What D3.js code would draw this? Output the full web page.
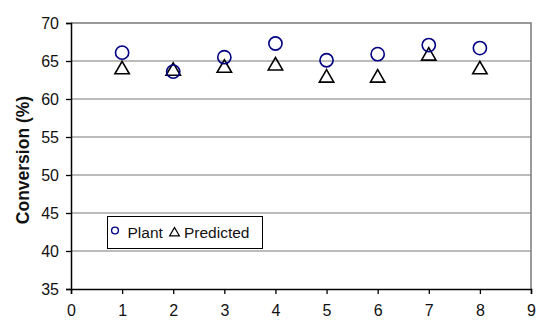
<!DOCTYPE html>
<html><head><meta charset="utf-8">
<script src="https://cdn.jsdelivr.net/npm/d3@7"></script>
<style>body{margin:0;background:#fff}svg{display:block;font-family:Arial,"Liberation Sans",sans-serif}</style>
</head><body><svg id="c" width="536" height="320"></svg>
<script>
const xValues = [1,2,3,4,5,6,7,8];
const plant = [66.1, 63.6, 65.5, 67.3, 65.1, 65.9, 67.1, 66.7];
const predicted = [64.0, 63.8, 64.2, 64.5, 62.9, 62.9, 65.8, 64.0];
const xTicks = [0,1,2,3,4,5,6,7,8,9];
const yTicks = [35,40,45,50,55,60,65,70];
const seriesNames = ["Plant","Predicted"];

const svg = d3.select("#c");
const L=71, R=531, T=23, B=289;
const x = d3.scaleLinear().domain([0,9]).range([L,R]);
const y = d3.scaleLinear().domain([35,70]).range([B,T]);

// gridlines
svg.append("g").selectAll("line").data(yTicks.filter(d=>d>35&&d<70)).join("line")
  .attr("x1",L).attr("x2",R).attr("y1",d=>y(d)).attr("y2",d=>y(d))
  .attr("stroke","#a6a6a6").attr("stroke-width",1.3);
// top/right border
svg.append("path").attr("d",`M${L},${T}H${R}V${B}`).attr("fill","none").attr("stroke","#7a7a7a").attr("stroke-width",1.5);

// axes
const ax = svg.append("g").attr("transform",`translate(0,${B})`)
  .call(d3.axisBottom(x).tickValues(xTicks).tickSize(5).tickPadding(11).tickFormat(d3.format("d")));
const ay = svg.append("g").attr("transform",`translate(${L},0)`)
  .call(d3.axisLeft(y).tickValues(yTicks).tickSize(5).tickPadding(7).tickFormat(d3.format("d")));
[ax,ay].forEach(g=>{
  g.select(".domain").attr("stroke","#000").attr("stroke-width",1.5);
  g.selectAll(".tick line").attr("stroke","#000").attr("stroke-width",1.3);
  g.selectAll("text").attr("font-size",16).attr("fill","#111").attr("font-family","Arial, 'Liberation Sans', sans-serif");
});

svg.append("text").attr("transform","translate(29,160) rotate(-90)")
  .attr("text-anchor","middle").attr("font-size",17.5).attr("font-weight","bold").attr("fill","#111")
  .text("Conversion (%)");

const tri = d3.symbol().type(d3.symbolTriangle).size(90);
// predicted triangles
svg.append("g").selectAll("path").data(xValues).join("path")
  .attr("d",tri).attr("transform",(d,i)=>`translate(${x(d)},${y(predicted[i])+1})`)
  .attr("fill","none").attr("stroke","#000").attr("stroke-width",1.6);
// plant circles
svg.append("g").selectAll("circle").data(xValues).join("circle")
  .attr("cx",d=>x(d)).attr("cy",(d,i)=>y(plant[i])).attr("r",6.6)
  .attr("fill","none").attr("stroke","#000080").attr("stroke-width",1.6);

// legend
const lg = svg.append("g");
lg.append("rect").attr("x",107.5).attr("y",216.5).attr("width",155).attr("height",32)
  .attr("fill","#fff").attr("stroke","#000").attr("stroke-width",1);
lg.append("circle").attr("cx",115).attr("cy",230.5).attr("r",3.4).attr("fill","none").attr("stroke","#000080").attr("stroke-width",1.4);
lg.append("text").attr("x",127.5).attr("y",237.5).attr("font-size",15.5).attr("fill","#111").text(seriesNames[0]);
lg.append("path").attr("d",d3.symbol().type(d3.symbolTriangle).size(40)).attr("transform","translate(174.5,233)")
  .attr("fill","none").attr("stroke","#000").attr("stroke-width",1.3);
lg.append("text").attr("x",184).attr("y",237.5).attr("font-size",15.5).attr("fill","#111").text(seriesNames[1]);
</script></body></html>
